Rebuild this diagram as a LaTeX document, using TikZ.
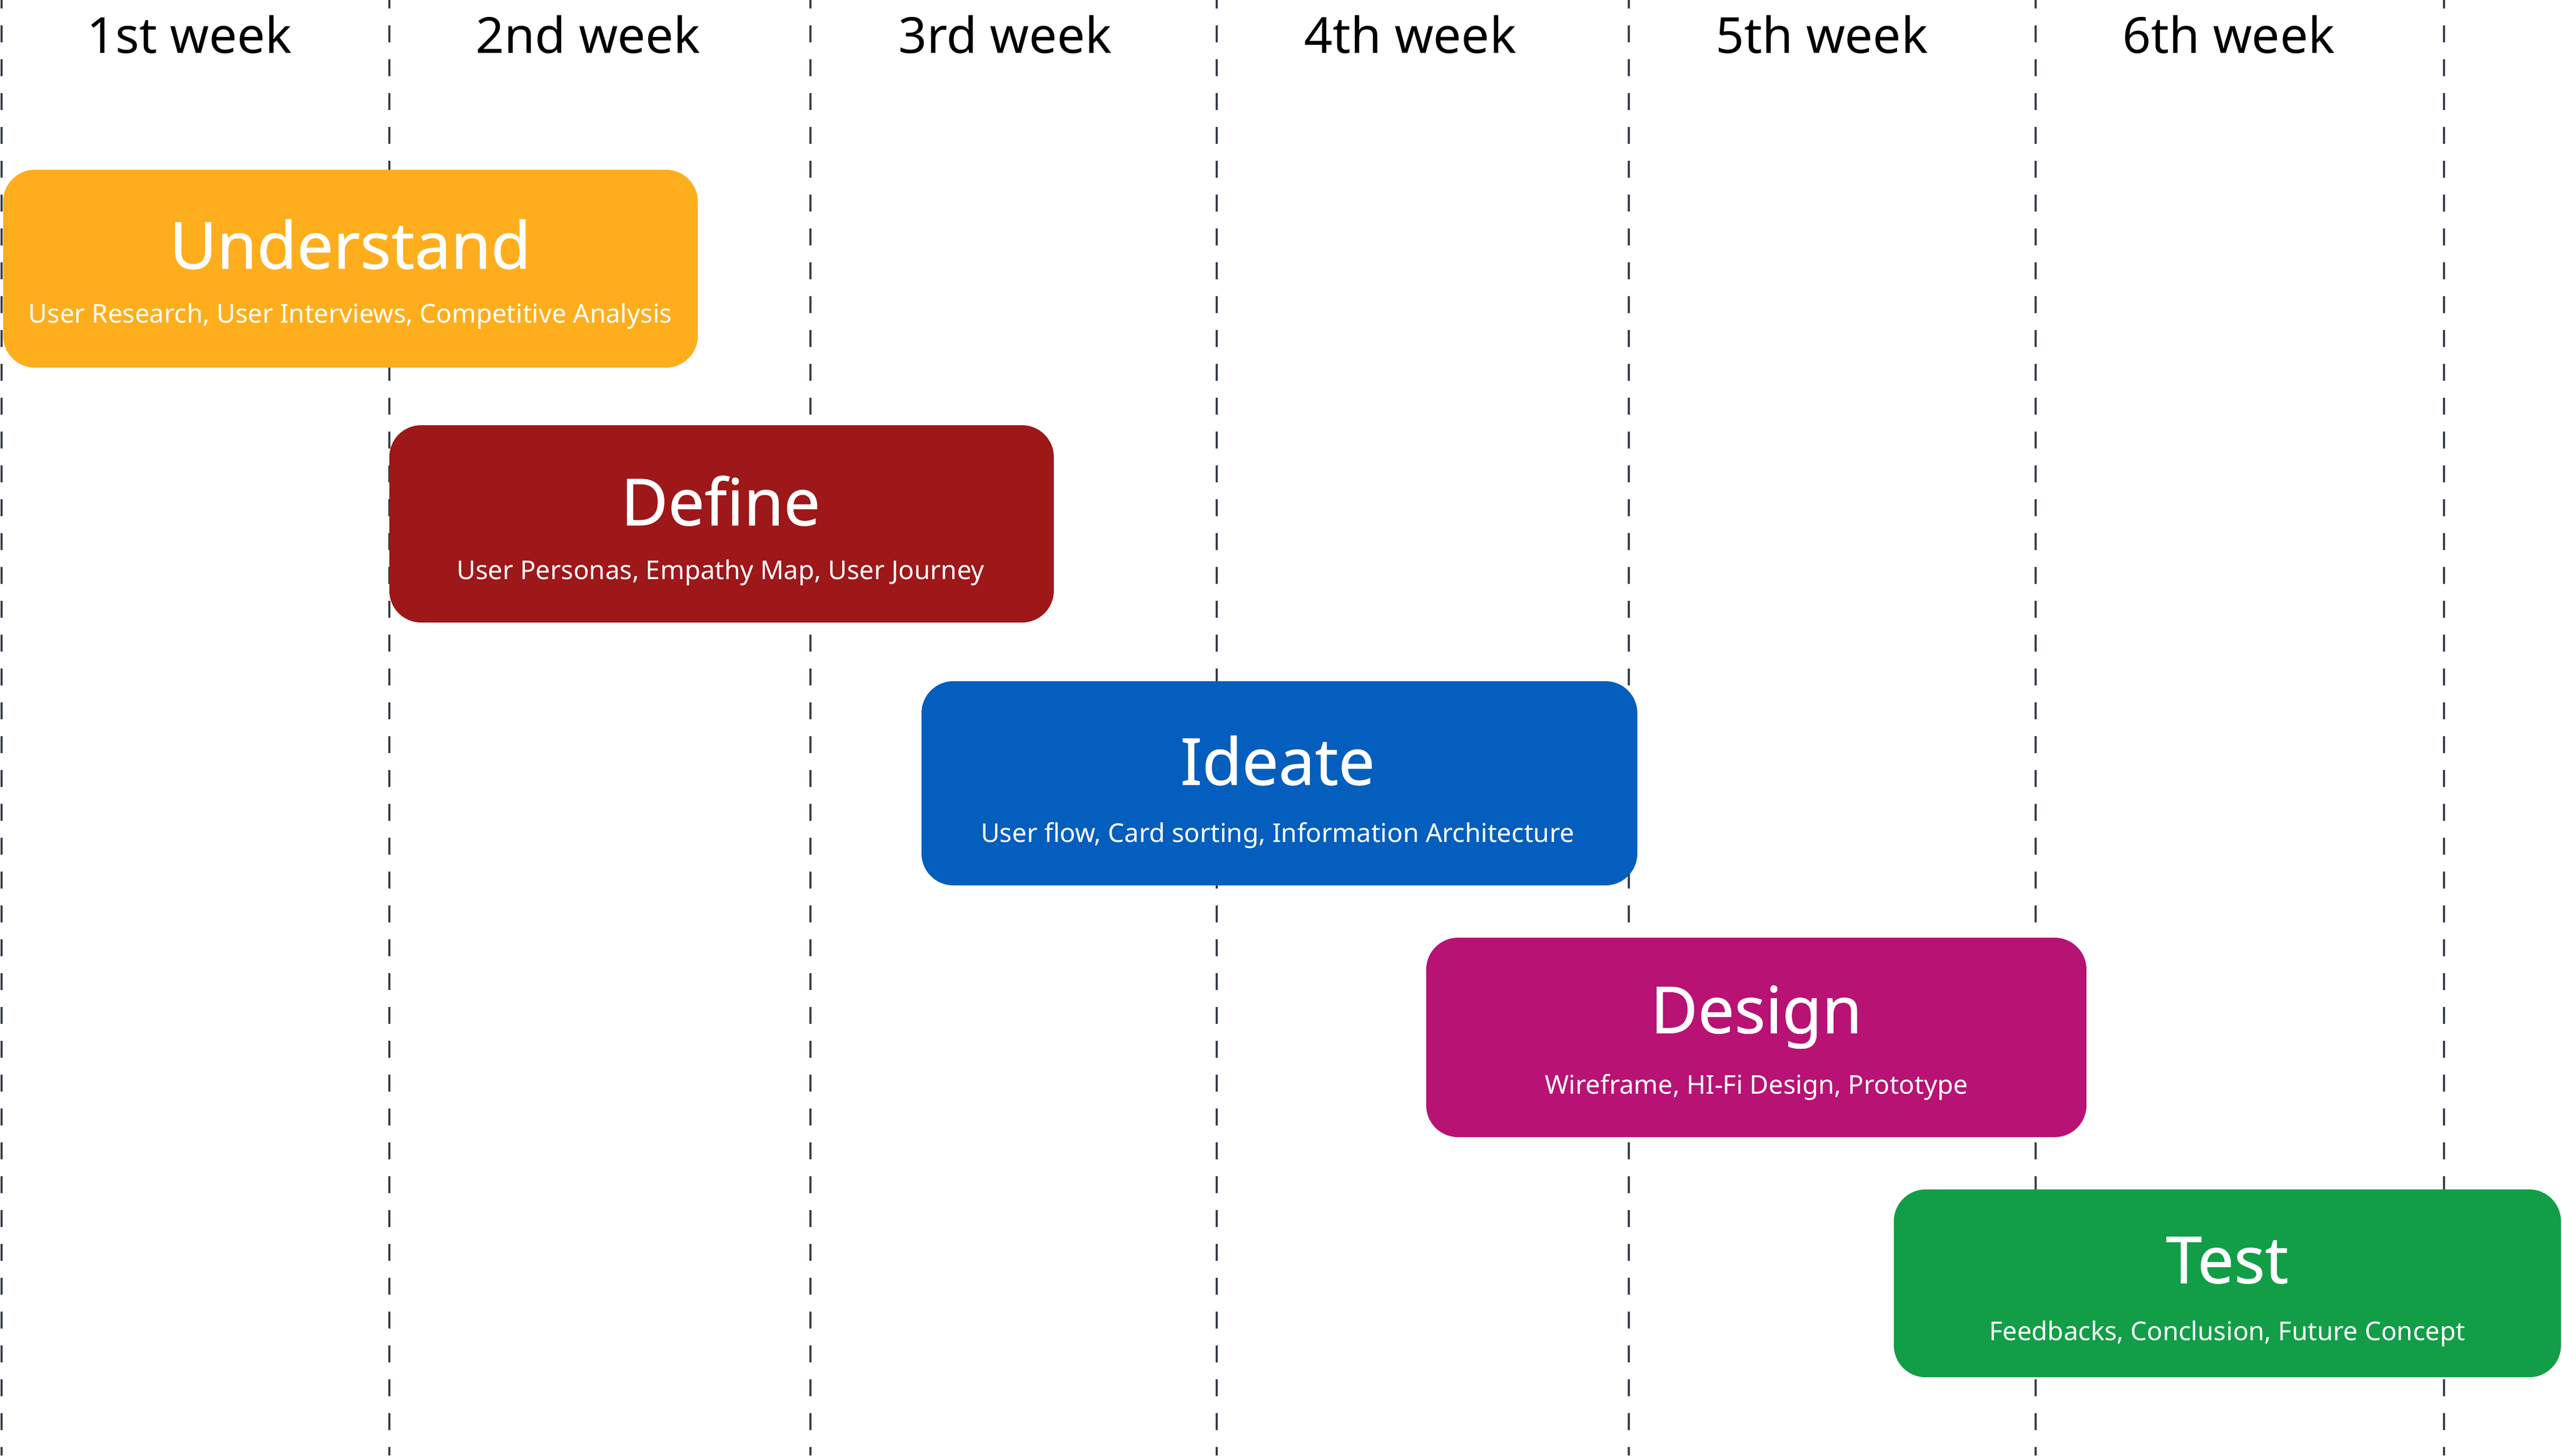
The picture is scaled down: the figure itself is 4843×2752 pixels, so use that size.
\documentclass[tikz,border=0pt]{standalone}
\usepackage{fontspec}
\setmainfont{Noto Sans}
\newfontfamily\ttlfont[FakeBold=0.6]{Noto Sans}
\definecolor{gridline}{HTML}{353D48}
\definecolor{cU}{HTML}{FEAE1D}
\definecolor{cD}{HTML}{9E1719}
\definecolor{cI}{HTML}{045EBE}
\definecolor{cDe}{HTML}{B71274}
\definecolor{cT}{HTML}{119E47}
\begin{document}
\begin{tikzpicture}[x=0.2pt,y=-0.2pt,
  gridl/.style={draw=gridline,line width=0.8pt,dash pattern=on 6.4pt off 6.4pt,dash phase=3.2pt},
  weeklbl/.style={font=\fontsize{18.8}{22}\selectfont,text=black,inner sep=0pt},
  ttl/.style={font=\ttlfont\fontsize{24.5}{28}\selectfont,text=white,inner sep=0pt},
  sub/.style={font=\fontsize{9.8}{12}\selectfont,text=white,inner sep=0pt}]
\useasboundingbox[fill=white] (0,0) rectangle (4843,2752);
% grid lines
\foreach \x in {3,736,1532,2300,3079,3848,4620}
  \draw[gridl] (\x,0) -- (\x,2752);
% week labels
\node[weeklbl] (w1) at (358,65) {1st week};
\node[weeklbl] (w2) at (1112,65) {2nd week};
\node[weeklbl] (w3) at (1900,65) {3rd week};
\node[weeklbl] (w4) at (2666,65) {4th week};
\node[weeklbl] (w5) at (3444,65) {5th week};
\node[weeklbl] (w6) at (4213,65) {6th week};
% phase boxes
\fill[cU,rounded corners=12pt] (6,321) rectangle (1319,695);
\fill[cD,rounded corners=12pt] (736,804) rectangle (1992,1177);
\fill[cI,rounded corners=12pt] (1742,1288) rectangle (3095,1674);
\fill[cDe,rounded corners=12pt] (2696,1773) rectangle (3944,2150);
\fill[cT,rounded corners=12pt] (3580,2249) rectangle (4841,2604);
% texts
\node[ttl] (tU) at (662,462) {Understand};
\node[sub] (sU) at (662,598) {User Research, User Interviews, Competitive Analysis};
\node[ttl] (tD) at (1362,947) {Define};
\node[sub] (sD) at (1362,1083) {User Personas, Empathy Map, User Journey};
\node[ttl] (tI) at (2415,1438) {Ideate};
\node[sub] (sI) at (2415,1580) {User flow, Card sorting, Information Architecture};
\node[ttl] (tDe) at (3320,1923) {Design};
\node[sub] (sDe) at (3320,2056) {Wireframe, HI-Fi Design, Prototype};
\node[ttl] (tT) at (4210,2383) {Test};
\node[sub] (sT) at (4210,2522) {Feedbacks, Conclusion, Future Concept};
\end{tikzpicture}
\end{document}
